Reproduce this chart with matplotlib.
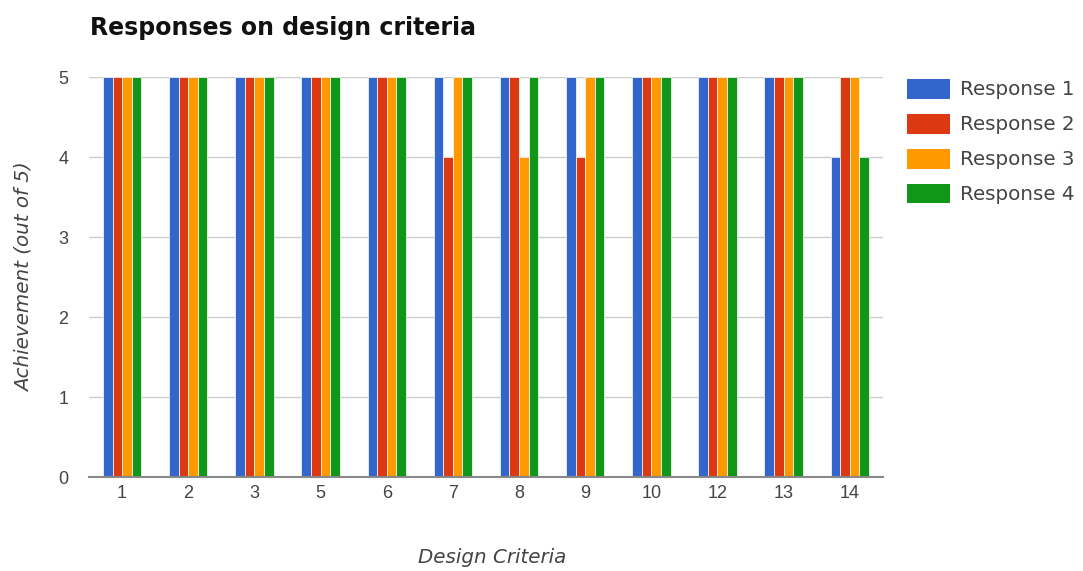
import matplotlib
matplotlib.use("Agg")
import matplotlib.pyplot as plt
from matplotlib.patches import Patch
import numpy as np

plt.rcParams["font.family"] = ["DejaVu Sans"]

# Design criteria that received scores
criteria = ["1", "2", "3", "5", "6", "7", "8", "9", "10", "12", "13", "14"]

# Achievement scores (out of 5) from each response
response_1 = [5, 5, 5, 5, 5, 5, 5, 5, 5, 5, 5, 4]
response_2 = [5, 5, 5, 5, 5, 4, 5, 4, 5, 5, 5, 5]
response_3 = [5, 5, 5, 5, 5, 5, 4, 5, 5, 5, 5, 5]
response_4 = [5, 5, 5, 5, 5, 5, 5, 5, 5, 5, 5, 4]

series_names = ["Response 1", "Response 2", "Response 3", "Response 4"]
colors = ["#3366cc", "#dc3912", "#ff9900", "#109618"]

fig = plt.figure(figsize=(10.83, 5.71), dpi=100)
ax = fig.add_axes([0.0822, 0.1646, 0.733, 0.7005])

x = np.arange(len(criteria))
bar_w = 0.145
series = [response_1, response_2, response_3, response_4]
for i, (vals, col) in enumerate(zip(series, colors)):
    ax.bar(x + (i - 1.5) * bar_w, vals, width=bar_w, color=col,
           edgecolor="white", linewidth=0.5, zorder=3)

ax.set_xlim(-0.5, len(criteria) - 0.5)
ax.set_ylim(0, 5)
ax.set_yticks([0, 1, 2, 3, 4, 5])
ax.set_xticks(x)
ax.set_xticklabels(criteria)

ax.grid(axis="y", color="#cccccc", linewidth=1, zorder=0)
for side in ["top", "right", "left"]:
    ax.spines[side].set_visible(False)
ax.spines["bottom"].set_color("#888888")
ax.spines["bottom"].set_linewidth(1.5)
ax.spines["bottom"].set_zorder(4)
ax.tick_params(axis="both", length=0, labelcolor="#444444")
for lbl in ax.get_xticklabels() + ax.get_yticklabels():
    lbl.set_fontfamily("Liberation Sans")
    lbl.set_fontsize(13)
ax.tick_params(axis="x", pad=6)
ax.tick_params(axis="y", pad=15)

ax.set_ylabel("Achievement (out of 5)", fontsize=14.3, style="italic",
              color="#444444", labelpad=18)
ax.set_xlabel("Design Criteria", fontsize=14.3, style="italic",
              color="#444444")
ax.xaxis.set_label_coords(0.508, -0.177, transform=ax.transAxes)

fig.text(0.083, 0.951, "Responses on design criteria", fontsize=17,
         fontweight="bold", color="#111111", ha="left", va="center")

handles = [Patch(facecolor=c, label=n) for c, n in zip(colors, series_names)]
fig.legend(handles=handles, loc="upper left", bbox_to_anchor=(0.8375, 0.862),
           frameon=False, fontsize=14.3, handlelength=2.16, handleheight=1.16,
           handletextpad=0.5, labelspacing=0.72, labelcolor="#444444",
           borderaxespad=0, borderpad=0)

fig.savefig("out.png", dpi=100)
